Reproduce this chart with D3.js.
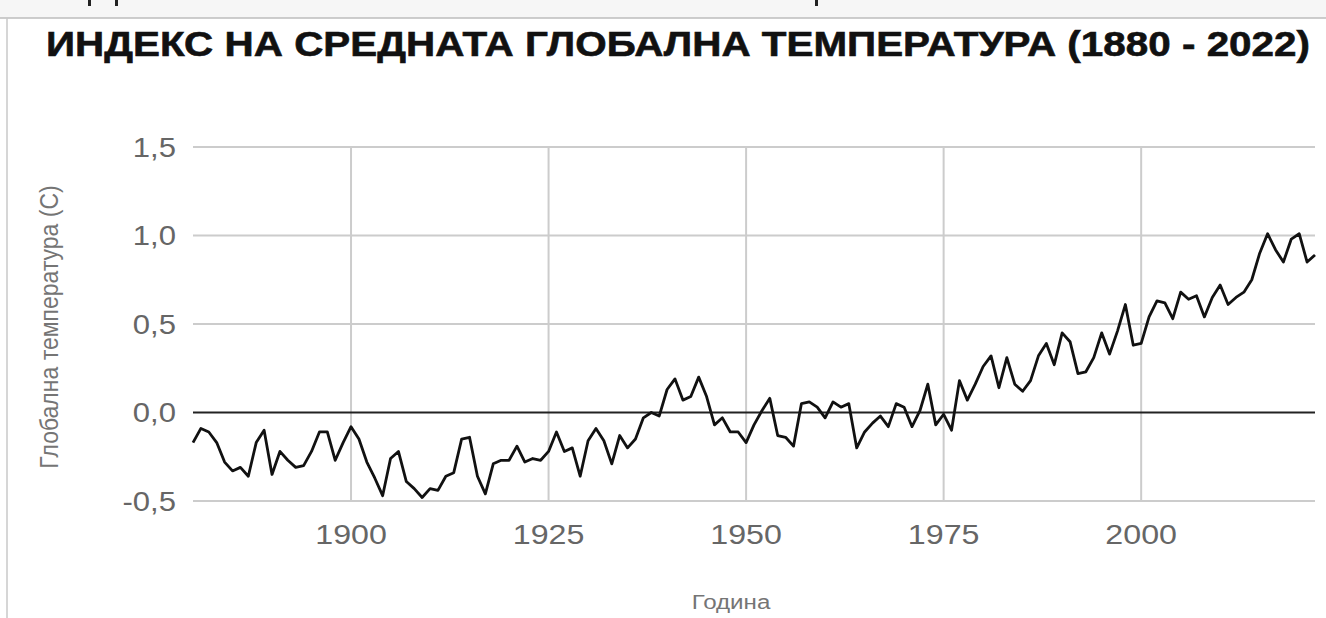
<!DOCTYPE html>
<html>
<head>
<meta charset="utf-8">
<script src="https://cdn.jsdelivr.net/npm/d3@7"></script>
<style>
  body { margin: 0; background: #fff; }
  svg { display: block; font-family: "Liberation Sans", Arial, sans-serif; }
</style>
</head>
<body>
<svg width="1326" height="618"></svg>
<script>
// Данни
const years = d3.range(1880, 2023);
const temps = [
  -0.17, -0.09, -0.11, -0.17, -0.28, -0.33, -0.31, -0.36, -0.17, -0.10,
  -0.35, -0.22, -0.27, -0.31, -0.30, -0.22, -0.11, -0.11, -0.27, -0.17,
  -0.08, -0.15, -0.28, -0.37, -0.47, -0.26, -0.22, -0.39, -0.43, -0.48,
  -0.43, -0.44, -0.36, -0.34, -0.15, -0.14, -0.36, -0.46, -0.29, -0.27,
  -0.27, -0.19, -0.28, -0.26, -0.27, -0.22, -0.11, -0.22, -0.20, -0.36,
  -0.16, -0.09, -0.16, -0.29, -0.13, -0.20, -0.15, -0.03, -0.00, -0.02,
  0.13, 0.19, 0.07, 0.09, 0.20, 0.09, -0.07, -0.03, -0.11, -0.11,
  -0.17, -0.07, 0.01, 0.08, -0.13, -0.14, -0.19, 0.05, 0.06, 0.03,
  -0.03, 0.06, 0.03, 0.05, -0.20, -0.11, -0.06, -0.02, -0.08, 0.05,
  0.03, -0.08, 0.01, 0.16, -0.07, -0.01, -0.10, 0.18, 0.07, 0.16,
  0.26, 0.32, 0.14, 0.31, 0.16, 0.12, 0.18, 0.32, 0.39, 0.27,
  0.45, 0.40, 0.22, 0.23, 0.31, 0.45, 0.33, 0.46, 0.61, 0.38,
  0.39, 0.54, 0.63, 0.62, 0.53, 0.68, 0.64, 0.66, 0.54, 0.65,
  0.72, 0.61, 0.65, 0.68, 0.75, 0.90, 1.01, 0.92, 0.85, 0.98,
  1.01, 0.85, 0.89
];
const yTicks = [-0.5, 0, 0.5, 1.0, 1.5];
const xTicks = [1900, 1925, 1950, 1975, 2000];

const title = "ИНДЕКС НА СРЕДНАТА ГЛОБАЛНА ТЕМПЕРАТУРА (1880 - 2022)";
const yTitle = "Глобална температура (C)";
const xTitle = "Година";

const svg = d3.select("svg");
const SX = 1.15; // картинката е малко разтеглена хоризонтално

// горна сива лента (изрязана страница)
svg.append("rect")
  .attr("x", 0).attr("y", 0)
  .attr("width", 1326).attr("height", 18)
  .attr("fill", "#f6f6f6");
svg.append("line")
  .attr("x1", 0).attr("x2", 1326)
  .attr("y1", 18).attr("y2", 18)
  .attr("stroke", "#bdbdbd").attr("stroke-width", 1.5);
svg.append("line")
  .attr("x1", 7).attr("x2", 7)
  .attr("y1", 18).attr("y2", 618)
  .attr("stroke", "#c8c8c8").attr("stroke-width", 1.5);
// парчета текст отгоре
svg.append("rect").attr("x", 88).attr("y", 0).attr("width", 3).attr("height", 6).attr("fill", "#222");
svg.append("rect").attr("x", 115).attr("y", 0).attr("width", 3).attr("height", 6).attr("fill", "#222");
svg.append("rect").attr("x", 815).attr("y", 0).attr("width", 3).attr("height", 6).attr("fill", "#222");

// Заглавие
svg.append("text")
  .attr("x", 46).attr("y", 56)
  .attr("font-size", 35)
  .attr("font-weight", "bold")
  .attr("fill", "#111")
  .attr("stroke", "#111")
  .attr("stroke-width", 0.6)
  .attr("textLength", 1264)
  .attr("lengthAdjust", "spacingAndGlyphs")
  .text(title);

// Скали
const x = d3.scaleLinear().domain([1880, 2022]).range([193, 1315]);
const y = d3.scaleLinear().domain([-0.5, 1.5]).range([501, 147]);

// мрежа
svg.append("g")
  .selectAll("line")
  .data(yTicks.filter(d => d !== 0))
  .join("line")
  .attr("x1", 193).attr("x2", 1315)
  .attr("y1", d => y(d)).attr("y2", d => y(d))
  .attr("stroke", "#cccccc").attr("stroke-width", 2);

svg.append("g")
  .selectAll("line")
  .data(xTicks)
  .join("line")
  .attr("x1", d => x(d)).attr("x2", d => x(d))
  .attr("y1", y(1.5)).attr("y2", y(-0.5))
  .attr("stroke", "#cccccc").attr("stroke-width", 2);

// нулева линия
svg.append("line")
  .attr("x1", 193).attr("x2", 1315)
  .attr("y1", y(0)).attr("y2", y(0))
  .attr("stroke", "#222").attr("stroke-width", 2.2);

// етикети на осите
const fmt = d => d3.format(".1f")(d).replace(".", ",").replace("−", "-");
svg.append("g")
  .selectAll("text")
  .data(yTicks)
  .join("text")
  .attr("transform", d => `translate(176, ${y(d) + 9.5}) scale(${SX}, 1)`)
  .attr("text-anchor", "end")
  .attr("font-size", 27)
  .attr("fill", "#666")
  .text(fmt);

svg.append("g")
  .selectAll("text")
  .data(xTicks)
  .join("text")
  .attr("transform", d => `translate(${x(d)}, 544) scale(${SX}, 1)`)
  .attr("text-anchor", "middle")
  .attr("font-size", 28)
  .attr("fill", "#666")
  .text(d => d);

// заглавия на осите
svg.append("text")
  .attr("transform", `translate(58, ${y(0.5) + 3}) rotate(-90) scale(1, ${SX})`)
  .attr("text-anchor", "middle")
  .attr("font-size", 23)
  .attr("fill", "#757575")
  .text(yTitle);

svg.append("text")
  .attr("transform", `translate(731, 609) scale(${SX}, 1)`)
  .attr("text-anchor", "middle")
  .attr("font-size", 21)
  .attr("fill", "#757575")
  .text(xTitle);

// линията
const line = d3.line()
  .x((d, i) => x(years[i]))
  .y(d => y(d));

svg.append("path")
  .datum(temps)
  .attr("d", line)
  .attr("fill", "none")
  .attr("stroke", "#111")
  .attr("stroke-width", 2.8)
  .attr("stroke-linejoin", "round");
</script>
</body>
</html>
